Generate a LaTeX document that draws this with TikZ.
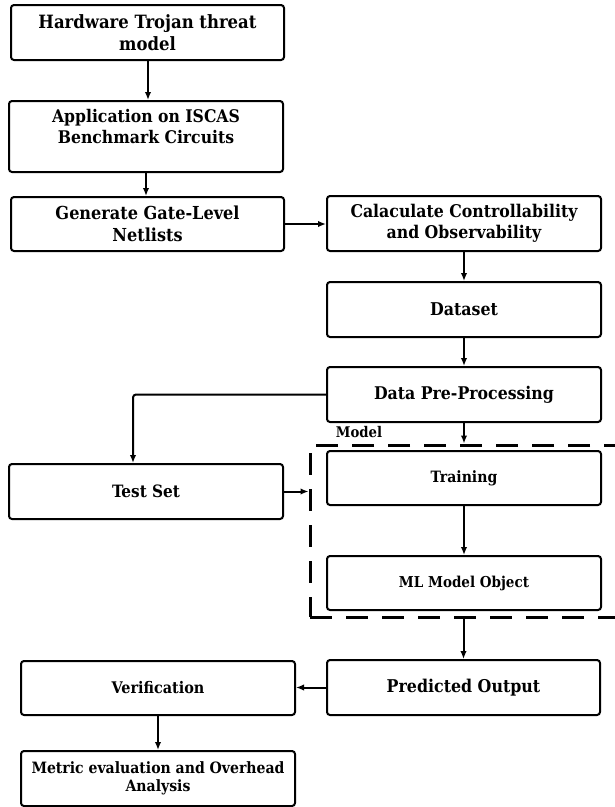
\documentclass[tikz,border=0pt]{standalone}
\usepackage{fontspec}
\setmainfont{DejaVu Serif Condensed}
\usetikzlibrary{arrows.meta,calc}
\begin{document}
\begin{tikzpicture}[x=1pt,y=-1pt,
  box/.style={draw, line width=2pt, rounded corners=3pt, align=center, inner sep=0pt, fill=white},
  fs/.style 2 args={font=\bfseries\fontsize{#1}{#2}\selectfont},
  arr/.style={line width=2pt, -{Latex[length=8pt,width=6.5pt]}},
  dashbox/.style={draw, line width=3pt, dash pattern=on 22pt off 14pt, inner sep=0pt}]
\useasboundingbox[fill=white] (0,0) rectangle (614,807);
% dashed model box
\node[dashbox, minimum width=306pt, minimum height=172pt] (modelbox) at (463,531) {};
\node[fs={14.7}{18}, inner sep=0pt] (modellabel) at (359,432) {Model};
% nodes
\node[box, fs={18.3}{22}, minimum width=273pt, minimum height=55pt] (b1) at (147.5,32.5) {Hardware Trojan threat\\model};
\node[box, fs={17.4}{20.5}, minimum width=274pt, minimum height=71pt] (b2) at (146,136.5) {Application on ISCAS\\Benchmark Circuits\\ };
\node[box, fs={17.9}{22}, minimum width=273pt, minimum height=54pt] (b3) at (147.5,224) {Generate Gate-Level\\Netlists};
\node[box, fs={17.5}{21.5}, minimum width=274pt, minimum height=55pt] (calc) at (464,223.5) {Calaculate Controllability\\and Observability};
\node[box, fs={17.6}{20}, minimum width=274pt, minimum height=55pt] (dataset) at (464,309.5) {Dataset};
\node[box, fs={17.5}{20}, minimum width=274pt, minimum height=55pt] (pre) at (464,394.5) {Data Pre-Processing};
\node[box, fs={17}{20}, minimum width=274pt, minimum height=55pt] (test) at (146,491.5) {Test Set};
\node[box, fs={15.6}{18}, minimum width=274pt, minimum height=54pt] (train) at (464,478) {Training};
\node[box, fs={15}{18}, minimum width=274pt, minimum height=54pt] (ml) at (464,583) {ML Model Object};
\node[box, fs={17.6}{20}, minimum width=273pt, minimum height=55pt] (pred) at (463.5,687.5) {Predicted Output};
\node[box, fs={16}{18}, minimum width=274pt, minimum height=54pt] (verif) at (158,688) {Verification};
\node[box, fs={15.6}{17.5}, minimum width=274pt, minimum height=55pt] (metric) at (158,778.5) {Metric evaluation and Overhead\\Analysis};
% connectors
\draw[arr] ([xshift=0.5pt]b1.south) -- ([xshift=0.5pt]b1.south |- b2.north);
\draw[arr] (b2.south) -- (b2.south |- b3.north);
\draw[arr] (b3.east) -- (b3.east -| calc.west);
\draw[arr] (calc.south) -- (dataset.north);
\draw[arr] (dataset.south) -- (pre.north);
\draw[arr] (pre.south) -- (pre.south |- modelbox.north);
\draw[arr, rounded corners=3pt] (pre.west) -| ([xshift=-13pt]test.north);
\draw[arr] (test.east) -- (test.east -| modelbox.west);
\draw[arr] (train.south) -- (ml.north);
\draw[arr] (modelbox.south -| pred.north) -- (pred.north);
\draw[arr] (pred.west) -- (pred.west -| verif.east);
\draw[arr] (verif.south) -- (metric.north);
\end{tikzpicture}
\end{document}
